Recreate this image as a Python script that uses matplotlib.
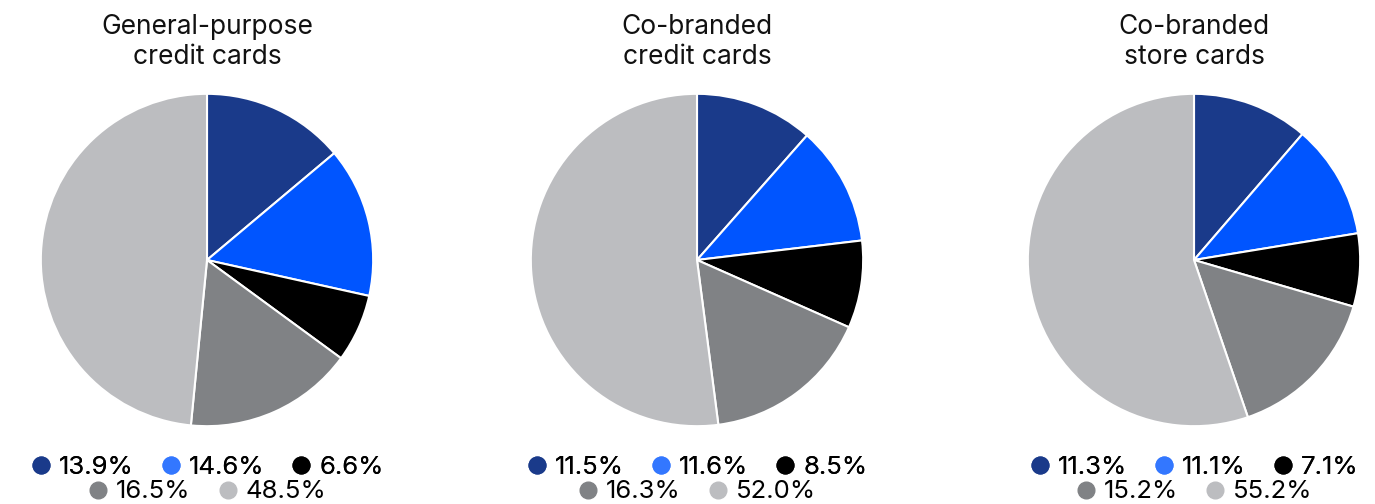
import matplotlib.pyplot as plt
from matplotlib.lines import Line2D

plt.rcParams['font.family'] = ['Inter', 'DejaVu Sans']

titles = ["General-purpose\ncredit cards", "Co-branded\ncredit cards", "Co-branded\nstore cards"]
general_purpose = [13.9, 14.6, 6.6, 16.5, 48.5]
cobranded_credit = [11.5, 11.6, 8.5, 16.3, 52.0]
cobranded_store = [11.3, 11.1, 7.1, 15.2, 55.2]
series = [general_purpose, cobranded_credit, cobranded_store]

wedge_colors = ['#1a3a8a', '#0055ff', '#000000', '#808285', '#bcbdc0']
marker_colors = ['#1a3a8a', '#3377ff', '#000000', '#808285', '#bcbdc0']

W, H = 1375, 504
fig = plt.figure(figsize=(W / 100, H / 100), dpi=100)

centers = [207, 697, 1194]
r = 167
cy = 260

for cx, vals, title in zip(centers, series, titles):
    ax = fig.add_axes([(cx - r) / W, (H - cy - r) / H, 2 * r / W, 2 * r / H])
    ax.pie(vals, colors=wedge_colors, startangle=90, counterclock=False,
           wedgeprops=dict(edgecolor='white', linewidth=1.5))
    ax.set_xlim(-1.005, 1.005)
    ax.set_ylim(-1.005, 1.005)
    ax.set_aspect('equal')
    fig.text(cx / W, 1 - 42 / H, title, ha='center', va='center',
             fontsize=19, linespacing=1.25, color='#111111')

    handles = [Line2D([], [], marker='o', linestyle='none', markersize=12,
                      markerfacecolor=c, markeredgecolor=c) for c in marker_colors]
    labels = [f"{v:.1f}%" for v in vals]
    top = fig.legend(handles[:3], labels[:3], ncol=3, loc='center',
                     bbox_to_anchor=(cx / W, 1 - 467 / H), frameon=False,
                     fontsize=18.5, handletextpad=0.3, columnspacing=1.05,
                     handlelength=0.8, borderpad=0)
    fig.add_artist(top)
    fig.legend(handles[3:], labels[3:], ncol=2, loc='center',
               bbox_to_anchor=(cx / W, 1 - 492 / H), frameon=False,
               fontsize=18.5, handletextpad=0.3, columnspacing=1.05,
               handlelength=0.8, borderpad=0)

fig.savefig('out.png', dpi=100)
